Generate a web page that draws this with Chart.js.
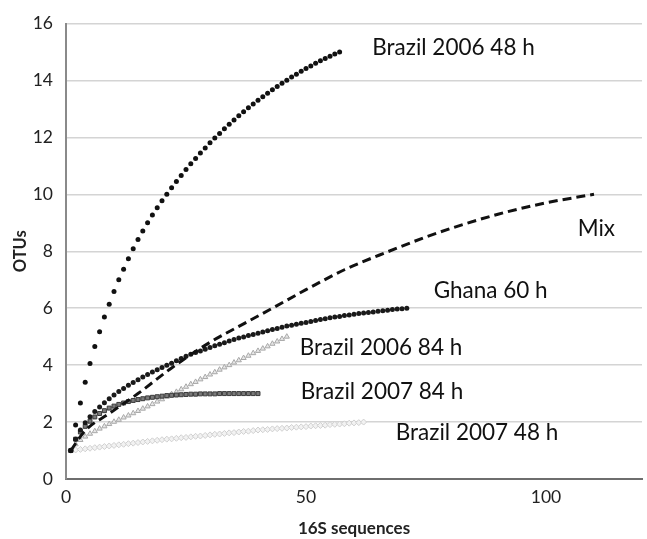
<!DOCTYPE html>
<html>
<head>
<meta charset="utf-8">
<script src="https://cdn.jsdelivr.net/npm/chart.js@4/dist/chart.umd.min.js"></script>
<style>
  html, body { margin: 0; padding: 0; background: #fff; }
  #wrap { width: 647px; height: 539px; }
</style>
</head>
<body>
<div id="wrap"><canvas id="rarefaction" width="647" height="539"></canvas></div>
<script>
// Rarefaction curves, OTUs vs number of 16S sequences
// each series starts at 1 sequence and steps by one sequence
const brazil2006_48h = [
  1.00, 1.90, 2.67, 3.40, 4.06, 4.65, 5.17, 5.69, 6.14, 6.59,
  7.00, 7.37, 7.74, 8.09, 8.41, 8.71, 9.00, 9.27, 9.53, 9.77,
  10.00, 10.23, 10.45, 10.66, 10.87, 11.07, 11.26, 11.45, 11.63, 11.81,
  11.98, 12.14, 12.30, 12.46, 12.61, 12.76, 12.90, 13.04, 13.17, 13.30,
  13.43, 13.55, 13.67, 13.79, 13.90, 14.01, 14.12, 14.22, 14.32, 14.42,
  14.51, 14.60, 14.69, 14.77, 14.85, 14.93, 15.00
];
const ghana60h = [
  1.00, 1.40, 1.72, 1.98, 2.19, 2.37, 2.53, 2.68, 2.82, 2.95,
  3.07, 3.18, 3.29, 3.39, 3.49, 3.58, 3.67, 3.76, 3.84, 3.92,
  4.00, 4.07, 4.15, 4.23, 4.31, 4.38, 4.44, 4.50, 4.56, 4.62,
  4.68, 4.73, 4.79, 4.85, 4.90, 4.95, 4.99, 5.04, 5.08, 5.12,
  5.16, 5.21, 5.25, 5.29, 5.33, 5.37, 5.40, 5.44, 5.47, 5.50,
  5.53, 5.57, 5.60, 5.63, 5.66, 5.69, 5.71, 5.74, 5.76, 5.79,
  5.81, 5.83, 5.85, 5.87, 5.89, 5.91, 5.93, 5.95, 5.97, 5.98,
  6.00
];
const brazil2006_84h = [
  1.00, 1.22, 1.37, 1.49, 1.59, 1.68, 1.77, 1.85, 1.93, 2.01,
  2.08, 2.16, 2.23, 2.31, 2.39, 2.47, 2.55, 2.63, 2.72, 2.80,
  2.89, 2.98, 3.06, 3.15, 3.24, 3.33, 3.41, 3.50, 3.58, 3.67,
  3.75, 3.84, 3.92, 4.00, 4.09, 4.17, 4.25, 4.33, 4.42, 4.50,
  4.58, 4.66, 4.75, 4.83, 4.92, 5.00
];
const brazil2007_84h = [
  1.00, 1.40, 1.65, 1.85, 2.03, 2.18, 2.30, 2.40, 2.49, 2.56,
  2.62, 2.67, 2.72, 2.76, 2.79, 2.82, 2.85, 2.87, 2.89, 2.91,
  2.93, 2.94, 2.95, 2.96, 2.97, 2.98, 2.98, 2.99, 2.99, 2.99,
  2.99, 3.00, 3.00, 3.00, 3.00, 3.00, 3.00, 3.00, 3.00, 3.00
];
const brazil2007_48h = [
  1.00, 1.02, 1.04, 1.06, 1.08, 1.10, 1.12, 1.14, 1.16, 1.18,
  1.20, 1.22, 1.24, 1.26, 1.28, 1.30, 1.32, 1.34, 1.36, 1.38,
  1.40, 1.41, 1.43, 1.45, 1.46, 1.48, 1.50, 1.51, 1.53, 1.55,
  1.57, 1.58, 1.60, 1.62, 1.63, 1.65, 1.67, 1.68, 1.70, 1.72,
  1.73, 1.74, 1.76, 1.77, 1.78, 1.79, 1.81, 1.82, 1.83, 1.84,
  1.86, 1.87, 1.88, 1.89, 1.91, 1.92, 1.93, 1.94, 1.96, 1.97,
  1.98, 2.00
];
// the pooled "Mix" curve is a dashed line, read at these sequence counts
const mixSeqs = [1, 4, 9, 15, 22, 30, 37, 43, 50, 58, 67, 75, 82, 90, 100, 110];
const mixOtus = [1.0, 1.7, 2.3, 3.0, 3.9, 4.8, 5.45, 6.0, 6.65, 7.35, 7.98, 8.5, 8.9, 9.3, 9.7, 10.0];

const seriesNames = ['Brazil 2006 48 h', 'Mix', 'Ghana 60 h', 'Brazil 2006 84 h', 'Brazil 2007 84 h', 'Brazil 2007 48 h'];
const xTicks = [0, 50, 100];
const yTicks = [0, 2, 4, 6, 8, 10, 12, 14, 16];

const FONT = 'Lato, "Open Sans", sans-serif';

// turn a list of OTU counts into points (1 sequence, 2 sequences, ...)
function stepPoints(values) {
  return values.map((v, i) => ({ x: i + 1, y: v }));
}

// series labels sit next to the curves, anchored in data units (left edge, middle)
const curveLabels = [
  { text: seriesNames[0], x: 63.8, y: 15.15 },
  { text: seriesNames[1], x: 106.6, y: 8.8 },
  { text: seriesNames[2], x: 76.6, y: 6.6 },
  { text: seriesNames[3], x: 48.7, y: 4.6 },
  { text: seriesNames[4], x: 48.9, y: 3.07 },
  { text: seriesNames[5], x: 68.7, y: 1.61 }
];

const curveLabelPlugin = {
  id: 'curveLabels',
  afterDatasetsDraw(chart) {
    const ctx = chart.ctx;
    const xs = chart.scales.x;
    const ys = chart.scales.y;
    ctx.save();
    ctx.fillStyle = '#111';
    ctx.font = '22.5px ' + FONT;
    ctx.textAlign = 'left';
    ctx.textBaseline = 'middle';
    curveLabels.forEach(l => {
      ctx.fillText(l.text, xs.getPixelForValue(l.x), ys.getPixelForValue(l.y));
    });
    ctx.restore();
  }
};

const ctx = document.getElementById('rarefaction').getContext('2d');

new Chart(ctx, {
  type: 'scatter',
  data: {
    datasets: [
      {
        label: seriesNames[1],
        data: mixSeqs.map((s, i) => ({ x: s, y: mixOtus[i] })),
        showLine: true,
        borderColor: '#111',
        borderWidth: 3,
        borderDash: [9, 5],
        pointRadius: 0,
        cubicInterpolationMode: 'monotone',
        order: 1
      },
      {
        label: seriesNames[0],
        data: stepPoints(brazil2006_48h),
        pointStyle: 'circle',
        pointRadius: 2.5,
        backgroundColor: '#111',
        borderColor: '#111',
        borderWidth: 0,
        order: 2
      },
      {
        label: seriesNames[2],
        data: stepPoints(ghana60h),
        pointStyle: 'circle',
        pointRadius: 2.5,
        backgroundColor: '#1a1a1a',
        borderColor: '#1a1a1a',
        borderWidth: 0,
        order: 3
      },
      {
        label: seriesNames[3],
        data: stepPoints(brazil2006_84h),
        pointStyle: 'triangle',
        pointRadius: 3,
        backgroundColor: '#e6e6e6',
        borderColor: '#a8a8a8',
        borderWidth: 1,
        order: 5
      },
      {
        label: seriesNames[4],
        data: stepPoints(brazil2007_84h),
        pointStyle: 'rect',
        pointRadius: 2.8,
        backgroundColor: '#7a7a7a',
        borderColor: '#3a3a3a',
        borderWidth: 1,
        order: 4
      },
      {
        label: seriesNames[5],
        data: stepPoints(brazil2007_48h),
        pointStyle: 'rectRot',
        pointRadius: 3,
        backgroundColor: '#f2f2f2',
        borderColor: '#cfcfcf',
        borderWidth: 1,
        order: 6
      }
    ]
  },
  options: {
    responsive: false,
    animation: false,
    events: [],
    layout: { padding: { top: 18, right: 4, left: 0, bottom: 0 } },
    plugins: {
      legend: { display: false },
      tooltip: { enabled: false }
    },
    scales: {
      x: {
        type: 'linear',
        min: 0,
        max: 120,
        afterFit(scale) { scale.height = 60; },
        afterBuildTicks(scale) { scale.ticks = xTicks.map(v => ({ value: v })); },
        grid: { display: false, drawTicks: false },
        border: { display: true, color: '#6e6e6e', width: 2 },
        ticks: { color: '#222', padding: 8, font: { family: FONT, size: 17.5 } },
        title: {
          display: true,
          text: '16S sequences',
          color: '#222',
          padding: { top: 7, bottom: 0 },
          font: { family: FONT, size: 17, weight: 'bold' }
        }
      },
      y: {
        min: 0,
        max: 16,
        afterFit(scale) { scale.width = 66; },
        afterBuildTicks(scale) { scale.ticks = yTicks.map(v => ({ value: v })); },
        grid: { color: '#d4d4d4', lineWidth: 1.5, drawTicks: false },
        border: { display: true, color: '#8a8a8a', width: 2 },
        ticks: { color: '#222', padding: 13, font: { family: FONT, size: 17.5 } },
        title: {
          display: true,
          text: 'OTUs',
          color: '#222',
          padding: { top: 11, bottom: 0 },
          font: { family: FONT, size: 16.5, weight: 'bold' }
        }
      }
    }
  },
  plugins: [curveLabelPlugin]
});
</script>
</body>
</html>
